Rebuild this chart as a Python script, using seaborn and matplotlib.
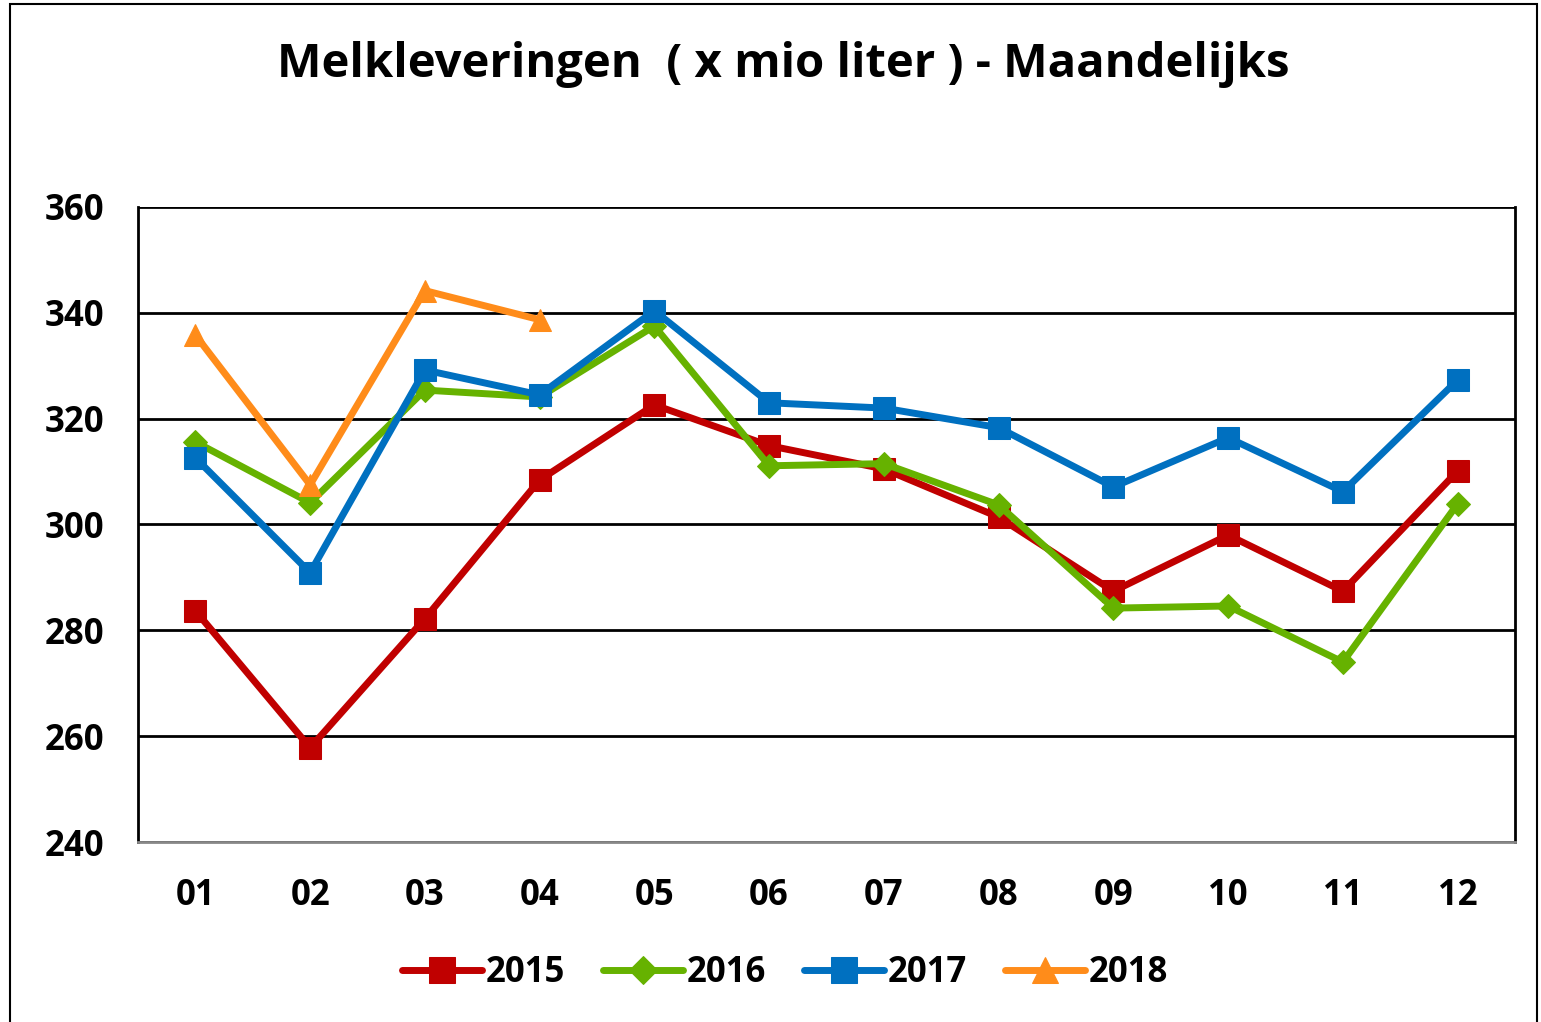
import pandas as pd
import numpy as np
import matplotlib
matplotlib.use("Agg")
import matplotlib.pyplot as plt
import seaborn as sns
from matplotlib.patches import Rectangle

# Maanden en leveringen (x mio liter)
maanden = ['01', '02', '03', '04', '05', '06', '07', '08', '09', '10', '11', '12']
jaar_2015 = [283.7, 257.8, 282.2, 308.4, 322.6, 314.9, 310.5, 301.4, 287.4, 298.0, 287.4, 310.1]
jaar_2016 = [315.6, 304.1, 325.4, 324.1, 337.5, 311.1, 311.5, 303.7, 284.2, 284.6, 274.0, 303.9]
jaar_2017 = [312.6, 290.9, 329.2, 324.5, 340.4, 323.0, 322.0, 318.3, 307.1, 316.4, 306.2, 327.3]
jaar_2018 = [335.8, 307.5, 344.2, 338.7]

jaren = ['2015', '2016', '2017', '2018']
kleuren = {'2015': '#C00000', '2016': '#66B200', '2017': '#0070C0', '2018': '#FF8C1A'}
markers = {'2015': 's', '2016': 'D', '2017': 's', '2018': '^'}
msize = {'2015': 16, '2016': 12, '2017': 16, '2018': 16}

# lange tabel bouwen
rows = []
for jaar, reeks in zip(jaren, [jaar_2015, jaar_2016, jaar_2017, jaar_2018]):
    for i, v in enumerate(reeks):
        rows.append({'jaar': jaar, 'pos': i, 'waarde': v})
df = pd.DataFrame(rows)

sns.set_style("white")
plt.rcParams['font.family'] = ['Open Sans', 'DejaVu Sans']
plt.rcParams['font.weight'] = 'bold'
plt.rcParams['text.color'] = 'black'
plt.rcParams['xtick.color'] = 'black'
plt.rcParams['ytick.color'] = 'black'

fig = plt.figure(figsize=(15.41, 10.22), dpi=100)
ax = fig.add_axes([138 / 1541, 1 - 842 / 1022, (1515 - 138) / 1541, (842 - 207) / 1022])

for jaar in jaren:
    sub = df[df['jaar'] == jaar]
    sns.lineplot(data=sub, x='pos', y='waarde', ax=ax, color=kleuren[jaar],
                 marker=markers[jaar], markersize=msize[jaar], linewidth=5,
                 markeredgecolor=kleuren[jaar], label=jaar, zorder=3)

ax.set_xlim(-0.5, 11.5)
ax.set_ylim(240, 360)
ax.set_yticks(np.arange(240, 361, 20))
ax.set_xticks(range(12))
ax.set_xticklabels(maanden)
ax.set_xticks(np.arange(-0.5, 12, 1), minor=True)
ax.set_xlabel('')
ax.set_ylabel('')
ax.grid(axis='y', color='black', linewidth=2)
ax.set_axisbelow(True)

ax.tick_params(axis='x', which='major', length=0, pad=26, labelsize=25, labelcolor='black')
ax.tick_params(axis='x', which='minor', length=10, width=2, color='#888888', direction='out')
ax.tick_params(axis='y', length=10, width=2, color='black', direction='out', pad=14,
               labelsize=25, labelcolor='black')
for lab in ax.get_xticklabels() + ax.get_yticklabels():
    lab.set_fontweight('bold')

for side in ['left', 'right']:
    ax.spines[side].set_color('black')
    ax.spines[side].set_linewidth(2)
ax.spines['bottom'].set_color('#888888')
ax.spines['bottom'].set_linewidth(2)
ax.spines['top'].set_visible(False)

ax.get_legend().remove()
handles, labels = ax.get_legend_handles_labels()
leg = fig.legend(handles, labels, loc='center', bbox_to_anchor=(785 / 1541, 1 - 973 / 1022),
                 ncol=4, frameon=False, handlelength=2.3, handletextpad=0.1, columnspacing=1.1,
                 markerscale=1.15, prop={'weight': 'bold', 'size': 25})
for t in leg.get_texts():
    t.set_color('black')

fig.text(783 / 1541, 1 - 65 / 1022, 'Melkleveringen  ( x mio liter ) - Maandelijks',
         ha='center', va='center', fontsize=34, fontweight='bold', color='black')

# kader rond de figuur
fig.patches.append(Rectangle((10 / 1541, -0.01), 1527 / 1541, 1.0 - 4 / 1022 + 0.01,
                             transform=fig.transFigure, fill=False, edgecolor='black', linewidth=1.5))

fig.savefig('out.png', dpi=100)
